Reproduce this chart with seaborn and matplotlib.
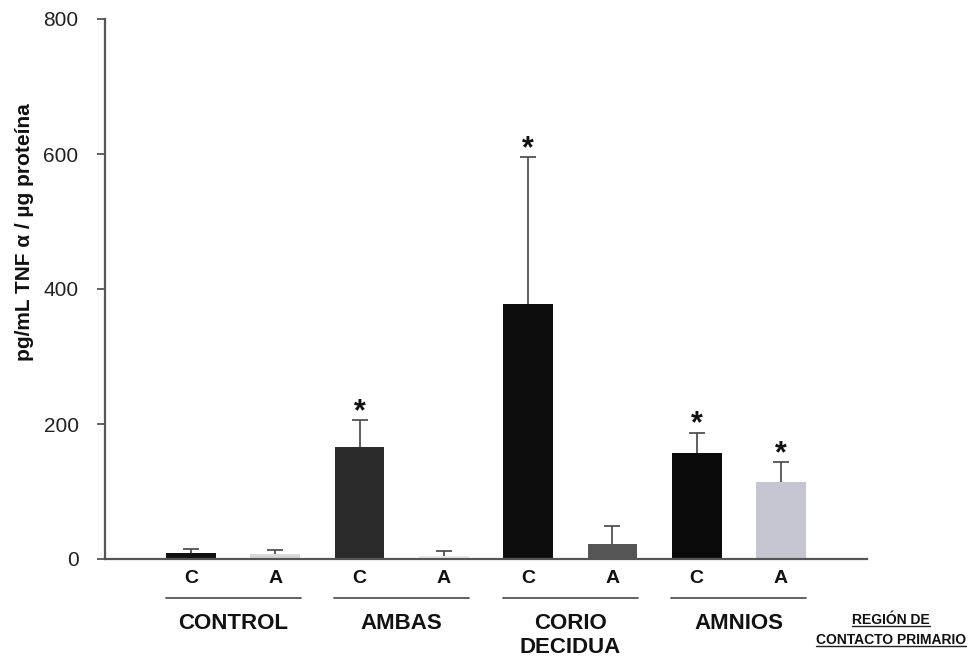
import matplotlib
matplotlib.use("Agg")
import matplotlib.pyplot as plt
import matplotlib.transforms as mtransforms
import numpy as np
import pandas as pd
import seaborn as sns

# Data: TNF-alpha per group and tissue (C = corion, A = amnios)
groups = ["CONTROL", "AMBAS", "CORIO\nDECIDUA", "AMNIOS"]
tissues = ["C", "A", "C", "A", "C", "A", "C", "A"]
means = [9, 7, 166, 5, 378, 22, 157, 114]
errors = [6, 6, 40, 7, 217, 27, 30, 29]
significant = [False, False, True, False, True, False, True, True]
bar_colors = ["#111111", "#d9d9d9", "#2b2b2b", "#ececec",
              "#0d0d0d", "#555555", "#0a0a0a", "#c6c6d2"]
y_ticks = [0, 200, 400, 600, 800]

sns.set_style("ticks")
plt.rcParams["font.family"] = ["Liberation Sans", "DejaVu Sans"]

df = pd.DataFrame({
    "pos": [str(i) for i in range(len(means))],
    "value": means,
})

fig = plt.figure(figsize=(9.7, 6.57), dpi=100)
ax = fig.add_axes([105 / 970, 1 - 559 / 657, (867 - 105) / 970, (559 - 19) / 657])

sns.barplot(data=df, x="pos", y="value", hue="pos", palette=bar_colors,
            legend=False, width=0.59, errorbar=None, saturation=1, ax=ax,
            edgecolor="none")

# Upper-only error bars (SEM)
xs = np.arange(len(means))
eb = ax.errorbar(xs, means, yerr=[np.zeros(len(errors)), errors], fmt="none",
                 ecolor="#444444", elinewidth=1.2, capsize=6, capthick=1.2,
                 zorder=3)
eb[1][0].set_visible(False)

for x, m, e, s in zip(xs, means, errors, significant):
    if s:
        ax.annotate("*", xy=(x, m + e), xytext=(0, -5), textcoords="offset points",
                    ha="center", va="bottom", fontsize=22, fontweight="bold",
                    color="#111111")

ax.set_xlim(-1.02, 8.02)
ax.set_ylim(0, 800)
ax.set_yticks(y_ticks)
ax.set_yticklabels([str(t) for t in y_ticks], fontsize=15, color="#222222")
ax.set_xticks(xs)
ax.set_xticklabels(tissues, fontsize=14, fontweight="bold", color="#111111")
ax.tick_params(axis="x", length=0, pad=8)
ax.tick_params(axis="y", length=6, width=1.3, color="#555555", pad=13)
ax.set_xlabel("")
ax.set_ylabel("pg/mL TNF α / µg proteína", fontsize=15, fontweight="bold",
              color="#111111")
ax.yaxis.set_label_coords(-0.093, 0.605)

sns.despine(ax=ax)
for side in ("left", "bottom"):
    ax.spines[side].set_color("#555555")
    ax.spines[side].set_linewidth(1.6)

# Group brackets and names below the C/A labels
trans = mtransforms.blended_transform_factory(ax.transData, ax.transAxes)
for gi, name in enumerate(groups):
    left = 2 * gi - 0.3
    right = 2 * gi + 1 + 0.3
    ax.plot([left, right], [-0.072, -0.072], transform=trans, color="#555555",
            lw=1.3, clip_on=False)
    ax.text(2 * gi + 0.5, -0.1, name, transform=trans, ha="center", va="top",
            fontsize=16, fontweight="bold", color="#111111", linespacing=1.2)

# Underlined axis caption at the lower right
region_lines = ["REGIÓN DE", "CONTACTO PRIMARIO"]
region_texts = []
for i, line in enumerate(region_lines):
    t = fig.text(891 / 970, 1 - (620 + 20 * i) / 657, line, ha="center",
                 va="center", fontsize=10, fontweight="bold", color="#111111")
    region_texts.append(t)

fig.canvas.draw()
renderer = fig.canvas.get_renderer()
for t in region_texts:
    bb = t.get_window_extent(renderer).transformed(fig.transFigure.inverted())
    y = bb.y0 + 0.002
    fig.add_artist(plt.Line2D([bb.x0, bb.x1], [y, y], transform=fig.transFigure,
                              color="#222222", lw=1.0))

fig.savefig("out.png", dpi=100)
